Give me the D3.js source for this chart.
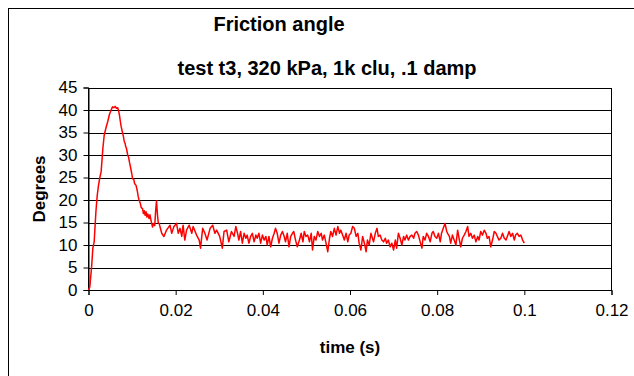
<!DOCTYPE html>
<html>
<head>
<meta charset="utf-8">
<script src="https://cdn.jsdelivr.net/npm/d3@7"></script>
<style>
  body { margin: 0; background: #fff; }
  svg { display: block; font-family: 'Liberation Sans', Arial, sans-serif; }
</style>
</head>
<body>
<div id="chart"></div>
<script>
const width = 634;
const height = 376;

const title = 'Friction angle';
const subtitle = 'test t3, 320 kPa, 1k clu, .1 damp';
const xTitle = 'time (s)';
const yTitle = 'Degrees';

const xTicks = [0, 0.02, 0.04, 0.06, 0.08, 0.1, 0.12];
const yTicks = [0, 5, 10, 15, 20, 25, 30, 35, 40, 45];

// rise and peak
const risePart = [
  [0, 0], [0.0003, 0.7], [0.0007, 5], [0.001, 9.3], [0.0013, 10.7], [0.0017, 17.4],
  [0.002, 21], [0.0023, 23.3], [0.0026, 25], [0.0029, 26.3], [0.0033, 31.5], [0.0036, 34.4],
  [0.004, 36], [0.0044, 37.4], [0.0048, 39], [0.0052, 40], [0.0055, 40.7], [0.0058, 40.5],
  [0.0061, 40.8], [0.0064, 40.4], [0.0067, 40.5], [0.0069, 39.8], [0.0071, 38.9], [0.0073, 37.5],
  [0.0075, 36.3], [0.0078, 35], [0.008, 34.2], [0.0082, 33], [0.0084, 32.6], [0.0085, 32],
  [0.0087, 31.5], [0.009, 30], [0.0092, 29.5], [0.0094, 28.4], [0.0097, 27], [0.0099, 26],
  [0.0101, 24.8], [0.0104, 24.5], [0.0106, 23.6], [0.0109, 23.3], [0.0112, 22], [0.0114, 20.8],
  [0.0116, 20], [0.0119, 19.2], [0.0121, 18.3], [0.0124, 18.1], [0.0126, 17], [0.0128, 17.6],
  [0.013, 16.6], [0.0132, 17.4], [0.0134, 16.2], [0.0136, 16.9], [0.0139, 15.9], [0.0141, 16.7],
  [0.0144, 15.2], [0.0147, 14.0], [0.0149, 14.8], [0.0152, 14.3], [0.0154, 17.5], [0.0156, 19.8],
  [0.0158, 17.0], [0.016, 15.0], [0.0162, 14.8]
];

// noisy tail, read section by section
const tailPart = [
  [0.0168, 12.6], [0.0173, 11.9], [0.0179, 13.3], [0.0187, 14.4], [0.0191, 12.6], [0.0196, 14.1],
  [0.0202, 14.8], [0.0206, 12.6], [0.021, 13.7], [0.0214, 11.9], [0.0217, 14.4], [0.0221, 11.1],
  [0.0225, 13.3], [0.0231, 14.4], [0.0237, 12.6], [0.024, 14.1], [0.0248, 12.2], [0.0254, 11.1],
  [0.0257, 9.3], [0.0262, 13.7], [0.0267, 12.6], [0.0272, 11.1], [0.0279, 13.7], [0.0285, 14.4],
  [0.029, 12.6], [0.0294, 13.3], [0.0301, 11.9], [0.0307, 9.3], [0.0311, 13.0], [0.0317, 13.3],
  [0.0322, 10.7], [0.0328, 13.0], [0.0334, 11.9], [0.0338, 14.1], [0.0342, 12.6], [0.0345, 11.1],
  [0.0349, 13.0], [0.0353, 10.4], [0.0357, 12.6], [0.0361, 11.5], [0.0364, 12.2], [0.0368, 10.4],
  [0.0372, 11.9], [0.0376, 12.6], [0.038, 10.7], [0.0384, 12.2], [0.0387, 11.5], [0.0391, 12.6],
  [0.0395, 10.4], [0.0399, 12.2], [0.0403, 11.1], [0.0407, 11.9], [0.041, 10.0], [0.0414, 11.9],
  [0.0418, 9.6], [0.0422, 11.5], [0.0426, 12.6], [0.0429, 13.7], [0.0433, 12.6], [0.0437, 10.4],
  [0.0441, 12.2], [0.0445, 13.0], [0.0449, 11.9], [0.0452, 10.7], [0.0456, 12.6], [0.046, 9.6],
  [0.0464, 11.9], [0.0468, 12.6], [0.0471, 13.0], [0.0475, 11.1], [0.0479, 9.6], [0.0484, 11.1],
  [0.0488, 12.6], [0.0492, 10.7], [0.0495, 13.0], [0.0499, 11.9], [0.0503, 12.2], [0.0507, 10.7],
  [0.0511, 12.6], [0.0514, 8.9], [0.0518, 11.9], [0.0522, 11.1], [0.0526, 13.0], [0.053, 11.9],
  [0.0534, 12.6], [0.0537, 11.1], [0.0541, 12.2], [0.0545, 10.4], [0.0549, 8.5], [0.0553, 11.5],
  [0.0556, 13.0], [0.056, 11.9], [0.0564, 13.7], [0.0568, 12.2], [0.0572, 14.1], [0.0576, 12.6],
  [0.0579, 13.3], [0.0583, 12.2], [0.0587, 11.1], [0.0591, 12.6], [0.0595, 10.7], [0.0598, 12.2],
  [0.0602, 12.6], [0.0606, 14.1], [0.061, 13.7], [0.0614, 11.9], [0.0618, 12.6], [0.0621, 10.4],
  [0.0625, 8.9], [0.0629, 11.9], [0.0633, 10.4], [0.0637, 8.5], [0.064, 11.1], [0.0644, 10.0],
  [0.0648, 12.6], [0.0654, 10.7], [0.0658, 12.6], [0.0662, 13.7], [0.0665, 11.9], [0.0669, 12.2],
  [0.0673, 11.1], [0.0677, 10.7], [0.0681, 11.5], [0.0684, 10.4], [0.0688, 11.1], [0.0692, 9.6],
  [0.0696, 10.4], [0.07, 8.9], [0.0704, 11.1], [0.0707, 9.3], [0.0711, 12.6], [0.0715, 11.5],
  [0.0719, 10.0], [0.0723, 11.9], [0.0726, 11.1], [0.073, 12.2], [0.0734, 11.1], [0.0738, 11.9],
  [0.0742, 12.2], [0.0746, 11.5], [0.0749, 12.6], [0.0753, 13.0], [0.0757, 12.2], [0.0761, 10.7],
  [0.0765, 9.3], [0.0768, 11.9], [0.0772, 11.1], [0.0776, 12.6], [0.078, 11.9], [0.0784, 10.7],
  [0.0788, 12.6], [0.0791, 13.0], [0.0795, 11.9], [0.0799, 11.5], [0.0803, 12.6], [0.0807, 10.7],
  [0.081, 12.6], [0.0814, 13.7], [0.0818, 14.8], [0.0822, 13.0], [0.0824, 12.6], [0.0828, 11.9],
  [0.0831, 10.4], [0.0835, 12.2], [0.0839, 11.1], [0.0843, 10.0], [0.0847, 13.3], [0.0851, 11.1],
  [0.0854, 9.6], [0.0858, 11.5], [0.0862, 12.2], [0.0866, 13.0], [0.087, 14.1], [0.0873, 11.9],
  [0.0877, 12.6], [0.0881, 11.5], [0.0885, 12.2], [0.0889, 10.7], [0.0893, 11.9], [0.0896, 11.1],
  [0.09, 13.0], [0.0904, 12.2], [0.0908, 13.3], [0.0912, 12.6], [0.0915, 11.5], [0.0919, 11.9],
  [0.0923, 9.6], [0.0927, 11.1], [0.0931, 13.0], [0.0935, 12.6], [0.0938, 11.9], [0.0942, 11.1],
  [0.0946, 11.5], [0.095, 12.6], [0.0954, 11.5], [0.0958, 11.1], [0.0961, 11.9], [0.0965, 13.0],
  [0.0969, 11.9], [0.0973, 12.6], [0.0977, 11.1], [0.098, 12.2], [0.0984, 12.6], [0.0988, 11.9],
  [0.0992, 12.2], [0.0996, 11.1], [0.1, 10.4]
];

const data = risePart.concat(tailPart);

const plotLeft = 88.5;
const plotRight = 611.5;
const plotTop = 87.5;
const plotBottom = 290;

const svg = d3.select('#chart')
  .append('svg')
  .attr('width', width)
  .attr('height', height);

// chart frame
svg.append('rect')
  .attr('x', 8.5)
  .attr('y', 8.5)
  .attr('width', 700)
  .attr('height', 500)
  .attr('fill', 'white')
  .attr('stroke', 'black')
  .attr('stroke-width', 1);

const xScale = d3.scaleLinear()
  .domain([0, 0.12])
  .range([plotLeft, plotRight]);

const yScale = d3.scaleLinear()
  .domain([0, 45])
  .range([plotBottom, plotTop]);

// gridlines
svg.append('g')
  .selectAll('line')
  .data(yTicks.slice(1))
  .enter()
  .append('line')
  .attr('x1', plotLeft)
  .attr('x2', plotRight)
  .attr('y1', d => Math.round(yScale(d)) + 0.5)
  .attr('y2', d => Math.round(yScale(d)) + 0.5)
  .attr('stroke', 'black')
  .attr('stroke-width', 1);

// plot box
svg.append('rect')
  .attr('x', plotLeft)
  .attr('y', Math.round(plotTop) + 0.5)
  .attr('width', plotRight - plotLeft)
  .attr('height', plotBottom - Math.round(plotTop))
  .attr('fill', 'none')
  .attr('stroke', 'black');

const xAxis = svg.append('g')
  .attr('transform', `translate(0, ${plotBottom})`)
  .call(d3.axisBottom(xScale)
    .tickValues(xTicks)
    .tickSize(5)
    .tickPadding(9)
    .tickFormat(d => d === 0 ? '0' : String(+d.toFixed(2))));

const yAxis = svg.append('g')
  .attr('transform', `translate(${plotLeft}, 0)`)
  .call(d3.axisLeft(yScale)
    .tickValues(yTicks)
    .tickSize(5)
    .tickPadding(6)
    .tickFormat(d => d));

[xAxis, yAxis].forEach(ax => {
  ax.select('.domain').attr('stroke', 'black');
  ax.selectAll('.tick line').attr('stroke', 'black');
  ax.selectAll('.tick text')
    .attr('fill', 'black')
    .style('font-family', "'Liberation Sans', Arial, sans-serif")
    .style('font-size', '17px');
});

// the trace
const line = d3.line()
  .x(d => xScale(d[0]))
  .y(d => yScale(d[1]));

svg.append('path')
  .datum(data)
  .attr('d', line)
  .attr('fill', 'none')
  .attr('stroke', '#ff0000')
  .attr('stroke-width', 1.5)
  .attr('stroke-linejoin', 'round');

// titles
svg.append('text')
  .attr('x', 279)
  .attr('y', 31)
  .attr('text-anchor', 'middle')
  .style('font-size', '20px')
  .style('font-weight', 'bold')
  .text(title);

svg.append('text')
  .attr('x', 327)
  .attr('y', 75)
  .attr('text-anchor', 'middle')
  .style('font-size', '20px')
  .style('font-weight', 'bold')
  .text(subtitle);

svg.append('text')
  .attr('x', 350)
  .attr('y', 353)
  .attr('text-anchor', 'middle')
  .style('font-size', '17px')
  .style('font-weight', 'bold')
  .text(xTitle);

svg.append('text')
  .attr('transform', 'translate(45, 189) rotate(-90)')
  .attr('text-anchor', 'middle')
  .style('font-size', '17px')
  .style('font-weight', 'bold')
  .text(yTitle);
</script>
</body>
</html>
